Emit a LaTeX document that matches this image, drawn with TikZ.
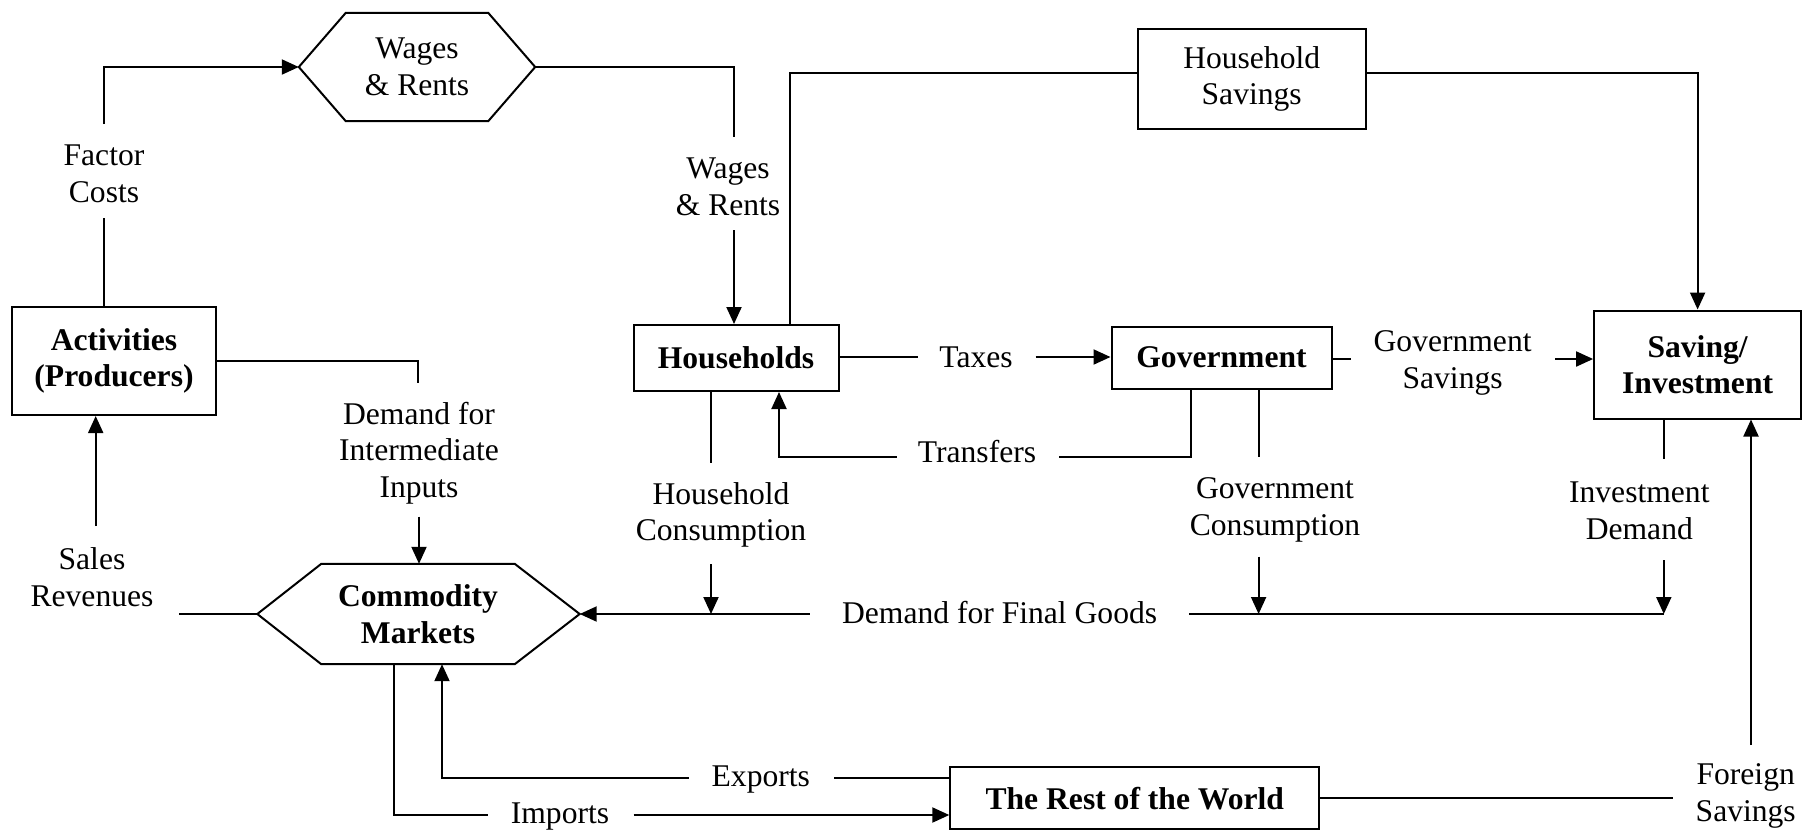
\documentclass[tikz,border=0pt]{standalone}
\usepackage{fontspec}
\setmainfont{Liberation Serif}
\usetikzlibrary{arrows.meta,calc}
\begin{document}
\begin{tikzpicture}[x=1pt,y=-1pt,
  every node/.style={font=\fontsize{31.6}{36.5}\selectfont, inner sep=0pt, align=center},
  bold/.style={font=\fontsize{31.6}{36.5}\selectfont\bfseries},
  flow/.style={line width=2pt},
  arr/.style={line width=2pt, -{Triangle[length=17pt,width=15pt]}},
  box/.style={draw, line width=2pt}]
\useasboundingbox (0,0) rectangle (1804,831);

% ---- main boxes
\node[box, bold, minimum width=204pt, minimum height=108pt] (act) at (114,361) {Activities\\(Producers)};
\node[box, bold, minimum width=205pt, minimum height=66pt] (hh) at (736,358) {Households};
\node[box, bold, minimum width=220pt, minimum height=62pt] (gov) at (1221.5,357.5) {Government};
\node[box, minimum width=228pt, minimum height=100pt] (hs) at (1251.7,79) {Household\\Savings};
\node[box, bold, minimum width=207pt, minimum height=108pt] (si) at (1697.6,364.5) {Saving/\\Investment};
\node[box, bold, minimum width=369pt, minimum height=62pt] (row) at (1134.8,798.3) {The Rest of the World};

% ---- hexagons
\node[minimum width=142pt, minimum height=108pt] (wr) at (417,67) {Wages\\\& Rents};
\coordinate (wrL) at ($(wr.west)+(-47,0)$);
\coordinate (wrR) at ($(wr.east)+(47,0)$);
\draw[box] (wr.north west) -- (wr.north east) -- (wrR) -- (wr.south east) -- (wr.south west) -- (wrL) -- cycle;

\node[bold, minimum width=193pt, minimum height=100pt] (cm) at (418,614) {Commodity\\Markets};
\coordinate (cmL) at ($(cm.west)+(-64,0)$);
\coordinate (cmR) at ($(cm.east)+(65,0)$);
\draw[box] (cm.north west) -- (cm.north east) -- (cmR) -- (cm.south east) -- (cm.south west) -- (cmL) -- cycle;

% ---- labels
\node (fc) at (104,174) {Factor\\Costs};
\node (wrl) at (728,187) {Wages\\\& Rents};
\node (dii) at (419,453) {Demand for\\Intermediate\\Inputs};
\node (sr) at (92,577) {Sales\\Revenues};
\node (tax) at (976,357) {Taxes};
\node (tr) at (977,452) {Transfers};
\node (gs) at (1452.6,363) {Government\\Savings};
\node (hc) at (721,515) {Household\\Consumption};
\node (gc) at (1275,510) {Government\\Consumption};
\node (id) at (1639.3,511) {Investment\\Demand};
\node (dfg) at (999.6,613) {Demand for Final Goods};
\node (exl) at (760.8,780) {Exports};
\node (iml) at (560,817) {Imports};
\node (fs) at (1745.7,796) {Foreign\\Savings};

% ---- connector coordinates
\coordinate (fc1) at (104,218);  \coordinate (fc2) at (104,124);
\coordinate (wr1) at (734,137);  \coordinate (wr2) at (734,230);
\coordinate (hs1) at (790,73);
\coordinate (tx1) at (917.6,357); \coordinate (tx2) at (1035.5,357);
\coordinate (gs1) at (1351,359);  \coordinate (gs2) at (1555,359);
\coordinate (trx) at (1191,456.7); \coordinate (tr1) at (1059,456.7);
\coordinate (tr2) at (896.6,456.7); \coordinate (tru) at (779,456.7);
\coordinate (hc1) at (711,463);   \coordinate (hc2) at (711,564);
\coordinate (gc1) at (1258.6,456.7); \coordinate (gc2) at (1258.6,556.7);
\coordinate (id1) at (1663.8,459.3); \coordinate (id2) at (1663.8,560);
\coordinate (fg1) at (809.7,614); \coordinate (fg2) at (1189.4,614);
\coordinate (di1) at (418.3,383); \coordinate (di2) at (419,516.7);
\coordinate (sr1) at (179,614);   \coordinate (sr2) at (95.7,526);
\coordinate (imx) at (394.2,815); \coordinate (im1) at (488,815); \coordinate (im2) at (633.7,815);
\coordinate (exx) at (442,778.3); \coordinate (ex2) at (688.8,778.3); \coordinate (ex1) at (834.2,778.3);
\coordinate (rw1) at (1673.4,798.3);
\coordinate (fs1) at (1751,745);

% ---- connectors
\draw[flow] (fc1) -- (fc1 |- act.north);
\draw[arr] (fc2) |- (wrL);

\draw[flow] (wrR) -| (wr1);
\draw[arr] (wr2) -- (wr2 |- hh.north);

\draw[flow] (hs1 |- hh.north) -- (hs1) -- (hs1 -| hs.west);
\draw[arr] (hs1 -| hs.east) -| (si.north);

\draw[flow] (tx1 -| hh.east) -- (tx1);
\draw[arr] (tx2) -- (tx2 -| gov.west);

\draw[flow] (gs1 -| gov.east) -- (gs1);
\draw[arr] (gs2) -- (gs2 -| si.west);

\draw[flow] (trx |- gov.south) -- (trx) -- (tr1);
\draw[arr] (tr2) -- (tru) -- (tru |- hh.south);

\draw[flow] (hc1 |- hh.south) -- (hc1);
\draw[arr] (hc2) -- (hc2 |- cmR);
\draw[flow] (gc1 |- gov.south) -- (gc1);
\draw[arr] (gc2) -- (gc2 |- cmR);
\draw[flow] (id1 |- si.south) -- (id1);
\draw[arr] (id2) -- (id2 |- cmR);

\draw[arr] (fg1 |- cmR) -- (cmR);
\draw[flow] (fg2 |- cmR) -- (id2 |- cmR);

\draw[flow] (act.east) -| (di1);
\draw[arr] (di2) -- (di2 |- cm.north);

\draw[flow] (cmL) -- (sr1 |- cmL);
\draw[arr] (sr2) -- (sr2 |- act.south);

\draw[flow] (imx |- cm.south) -- (imx) -- (im1);
\draw[arr] (im2) -- (im2 -| row.west);

\draw[flow] (ex1 -| row.west) -- (ex1);
\draw[arr] (ex2) -- (exx) -- (exx |- cm.south);

\draw[flow] (row.east) -- (rw1);
\draw[arr] (fs1) -- (fs1 |- si.south);
\end{tikzpicture}
\end{document}
